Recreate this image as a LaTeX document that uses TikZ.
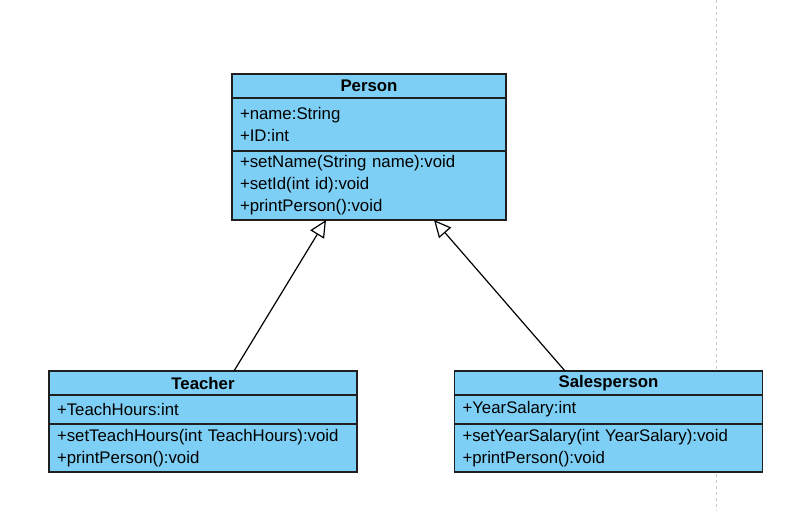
\documentclass[tikz,border=0pt]{standalone}
\usepackage{fontspec}
\setmainfont{Liberation Sans}
\usetikzlibrary{positioning,arrows.meta}

\definecolor{classBlue}{RGB}{126,207,245}
\definecolor{pageGray}{RGB}{200,200,200}

\tikzset{
    classpart/.style={draw=black!88,fill=classBlue,line width=1.3pt,outer sep=0pt,inner xsep=8pt,inner ysep=0pt,
        font=\fontsize{16.8}{22}\selectfont,align=left,anchor=north},
    classhead/.style={classpart,align=center,font=\bfseries\fontsize{16.8}{22}\selectfont},
    inherit/.style={line width=1.2pt,-{Triangle[length=17pt,width=16pt,fill=white,line width=1.2pt]}}
}

\begin{document}
\begin{tikzpicture}[x=1pt,y=-1pt]

        % -----------
        % Parameters.
        % -----------

        % Constants.
        \pgfmathsetmacro{\widthPerson}{274}     % Width of the Person box.
        \pgfmathsetmacro{\widthChild}{308}      % Width of the child boxes.
        \pgfmathsetmacro{\heightHead}{24}       % Height of a header row.

        % Derived parameters.
        \pgfmathsetmacro{\textPerson}{\widthPerson-16}  % Text width in the Person box.
        \pgfmathsetmacro{\textChild}{\widthChild-16}    % Text width in the child boxes.

        \useasboundingbox(0,0)rectangle(797,511);

        % --------
        % Drawing.
        % --------

        % Page border.
        \draw[pageGray,line width=0.9pt,dash pattern=on 3pt off 3pt](716,0)--(716,511);

        % Person.
        \node[classhead,minimum width=\widthPerson,minimum height=\heightHead](person)at(369,74){Person};
        \node[classpart,text width=\textPerson,minimum height=53,below=0pt of person](personattr){+name:String\\+ID:int};
        \node[classpart,text width=\textPerson,minimum height=69,below=0pt of personattr](personops){+setName(String name):void\\+setId(int id):void\\+printPerson():void};

        % Teacher.
        \node[classhead,minimum width=\widthChild,minimum height=\heightHead](teacher)at(203,371){Teacher};
        \node[classpart,text width=\textChild,minimum height=29,below=0pt of teacher](teacherattr){+TeachHours:int};
        \node[classpart,text width=\textChild,minimum height=48,below=0pt of teacherattr](teacherops){+setTeachHours(int TeachHours):void\\+printPerson():void};

        % Salesperson.
        \node[classhead,minimum width=\widthChild,minimum height=\heightHead](sales)at(608.5,371){Salesperson};
        \node[classpart,text width=\textChild,minimum height=29,below=0pt of sales](salesattr){+YearSalary:int};
        \node[classpart,text width=\textChild,minimum height=48,below=0pt of salesattr](salesops){+setYearSalary(int YearSalary):void\\+printPerson():void};

        % Generalisations.
        \draw[inherit]([xshift=31pt]teacher.north)--([xshift=-43pt]personops.south);
        \draw[inherit]([xshift=-43.5pt]sales.north)--([xshift=65pt]personops.south);

    \end{tikzpicture}
\end{document}
